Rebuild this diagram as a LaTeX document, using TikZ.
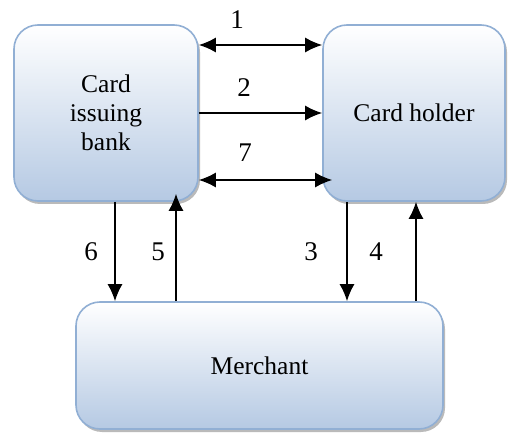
\documentclass[tikz,border=0pt]{standalone}
\usepackage{fontspec}
\setmainfont{Liberation Serif}
\usepackage{xcolor}
\usetikzlibrary{arrows.meta,shadows,calc}

\definecolor{boxfill}{RGB}{181,201,227}
\definecolor{boxedge}{RGB}{145,175,212}

\tikzset{flowtip/.tip={Latex[length=17pt,width=15pt]}}

\begin{document}
\begin{tikzpicture}[x=1pt,y=1pt,
  party/.style={rounded corners=24pt,draw=boxedge,line width=1.6pt,
    top color=white,bottom color=boxfill,
    drop shadow={shadow xshift=2pt,shadow yshift=-3pt,fill=black!45,opacity=.6},
    align=center,font=\fontsize{25.5}{29}\selectfont,inner sep=0pt},
  flow/.style={line width=1.6pt,-{flowtip}},
  twoway/.style={line width=1.6pt,{flowtip}-{flowtip}},
  num/.style={font=\fontsize{27}{29}\selectfont}]
  \useasboundingbox (0,0) rectangle (517,434);

  % the three parties
  \node[party,minimum width=184,minimum height=176] (bank) at (106,321) {Card\\issuing\\bank};
  \node[party,minimum width=182,minimum height=176] (holder) at (414,321) {Card holder};
  \node[party,minimum width=367,minimum height=127] (merchant) at (259.5,68.5) {Merchant};

  % rows and columns of the flows
  \coordinate (r1) at (0,389);
  \coordinate (r7) at (0,254);
  \foreach \c/\x in {c6/115,c5/176,c3/347,c4/416}
    \coordinate (\c) at (\x,0);

  % bank <-> holder
  \draw[twoway] (bank.east |- r1) -- (holder.west |- r1);
  \draw[flow] (bank.east) -- (holder.west);
  \draw[twoway] (bank.east |- r7) -- ($(holder.west |- r7)+(10,0)$);

  % to and from the merchant
  \draw[flow] (bank.south -| c6) -- (merchant.north -| c6);
  \draw[flow] (merchant.north -| c5) -- ($(bank.south -| c5)+(0,8)$);
  \draw[flow] (holder.south -| c3) -- (merchant.north -| c3);
  \draw[flow] (merchant.north -| c4) -- (holder.south -| c4);

  % step numbers
  \foreach \lab/\x/\y in {1/237/414,2/244/346,7/245/281,6/91/182,5/158/182,3/311/182,4/376/182}
    \node[num] (n\lab) at (\x,\y) {\lab};
\end{tikzpicture}
\end{document}
